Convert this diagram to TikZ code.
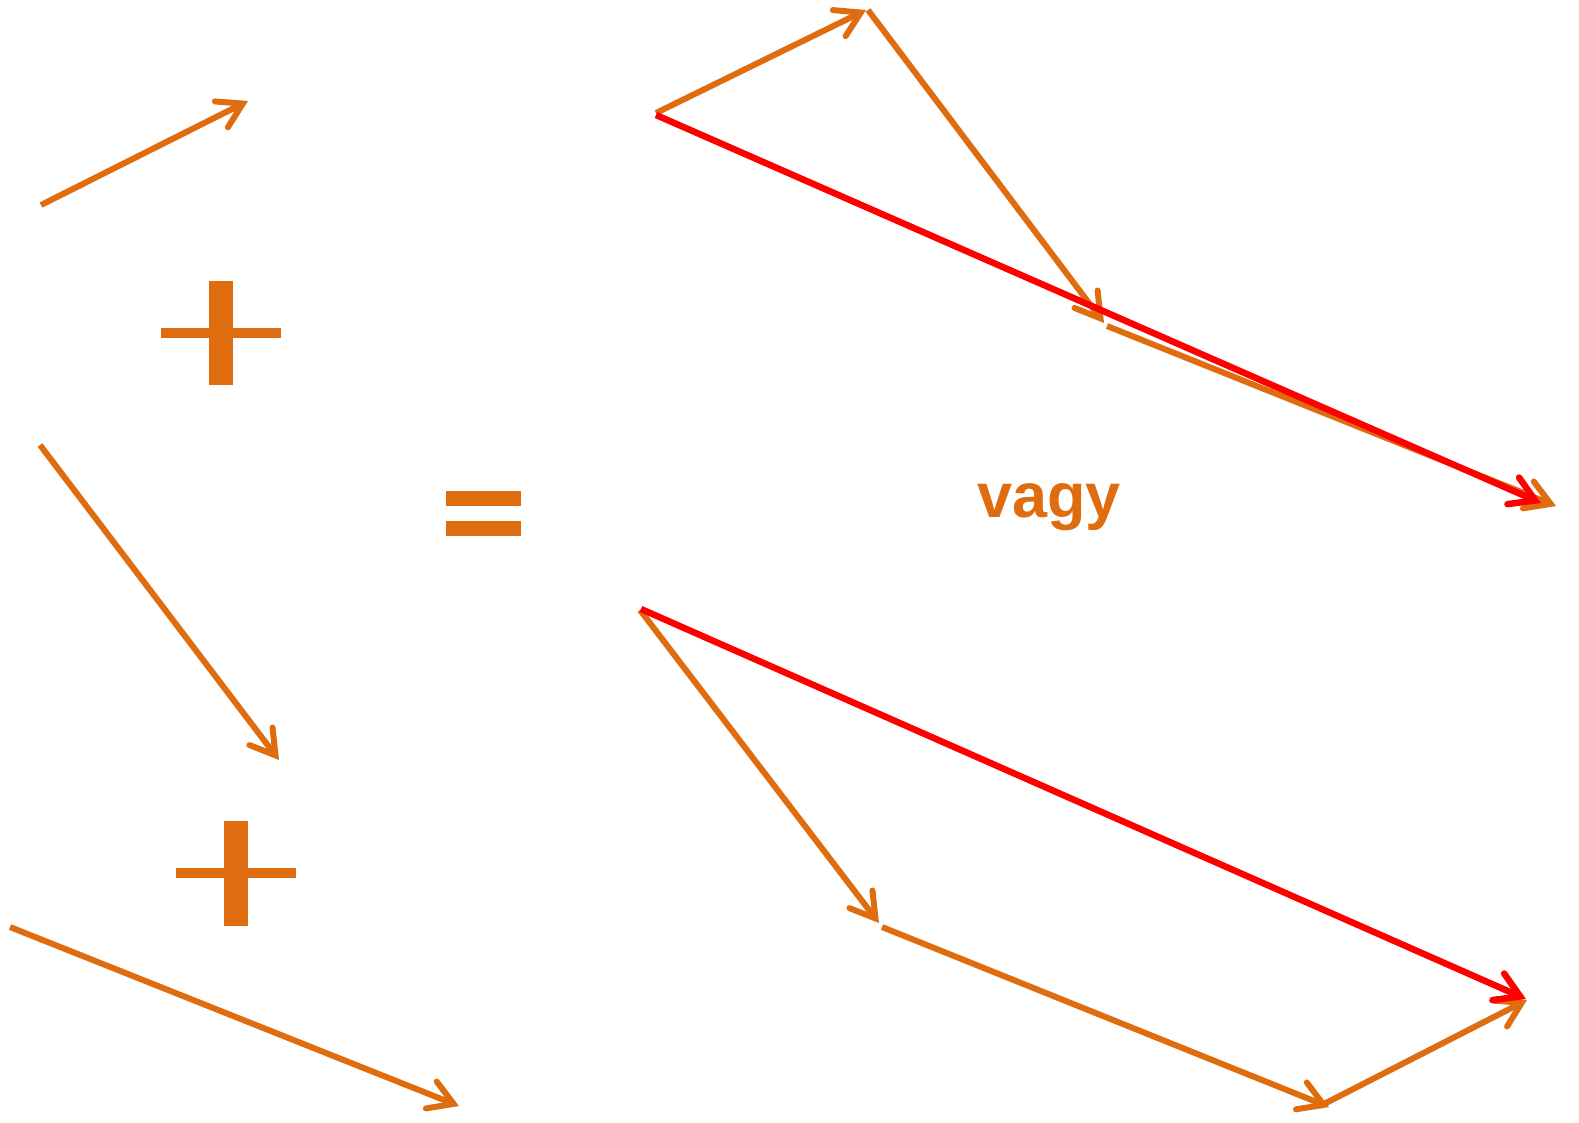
\documentclass[tikz,border=0pt]{standalone}
\usepackage{fontspec}
\setmainfont{Liberation Sans}
\usetikzlibrary{arrows.meta, positioning}
\definecolor{vecorange}{HTML}{E06C10}
\definecolor{vecred}{HTML}{FF0000}

\begin{document}
\begin{tikzpicture}[x=1pt, y=-1pt,
    vec/.style={line width=6pt, vecorange,
      -{Straight Barb[length=24pt, width=29pt, line cap=round]}},
    sumvec/.style={vec, vecred, line width=6.5pt},
    sign/.style={fill=vecorange, draw=none}]
  \useasboundingbox (0,0) rectangle (1579,1122);

  % the three vectors
  \coordinate (a0) at (41,205);  \coordinate (a1) at (248,101);
  \coordinate (b0) at (40,445);  \coordinate (b1) at (279,760);
  \coordinate (c0) at (10,927);  \coordinate (c1) at (459,1106);
  \draw[vec] (a0) -- (a1);
  \draw[vec] (b0) -- (b1);
  \draw[vec] (c0) -- (c1);

  % + and =
  \fill[sign] (161,328) rectangle (281,338);
  \fill[sign] (209,281) rectangle (233,385);
  \fill[sign] (176,868) rectangle (296,878);
  \fill[sign] (224,821) rectangle (248,926);
  \fill[sign] (446,491) rectangle (521,506);
  \fill[sign] (446,521) rectangle (521,536);

  % a + b + c
  \coordinate (ta0) at (656,113);  \coordinate (ta1) at (866,10);
  \coordinate (tb0) at (868,10);   \coordinate (tb1) at (1104,323);
  \coordinate (tc0) at (1107,326); \coordinate (tc1) at (1556,506);
  \coordinate (ts0) at (656,115);  \coordinate (ts1) at (1541,503);
  \draw[vec] (ta0) -- (ta1);
  \draw[vec] (tb0) -- (tb1);
  \draw[vec] (tc0) -- (tc1);
  \draw[sumvec] (ts0) -- (ts1);

  \node[font=\bfseries\fontsize{63}{70}\selectfont, text=vecorange,
    anchor=base, inner sep=0pt] (vagy) at (1049,517) {vagy};

  % b + c + a
  \coordinate (bb0) at (640,610);  \coordinate (bb1) at (879,923);
  \coordinate (bc0) at (882,927);  \coordinate (bc1) at (1329,1107);
  \coordinate (ba0) at (1320,1106); \coordinate (ba1) at (1527,1000);
  \coordinate (bs0) at (641,609);  \coordinate (bs1) at (1526,999);
  \draw[vec] (bb0) -- (bb1);
  \draw[vec] (bc0) -- (bc1);
  \draw[vec] (ba0) -- (ba1);
  \draw[sumvec] (bs0) -- (bs1);
\end{tikzpicture}
\end{document}
